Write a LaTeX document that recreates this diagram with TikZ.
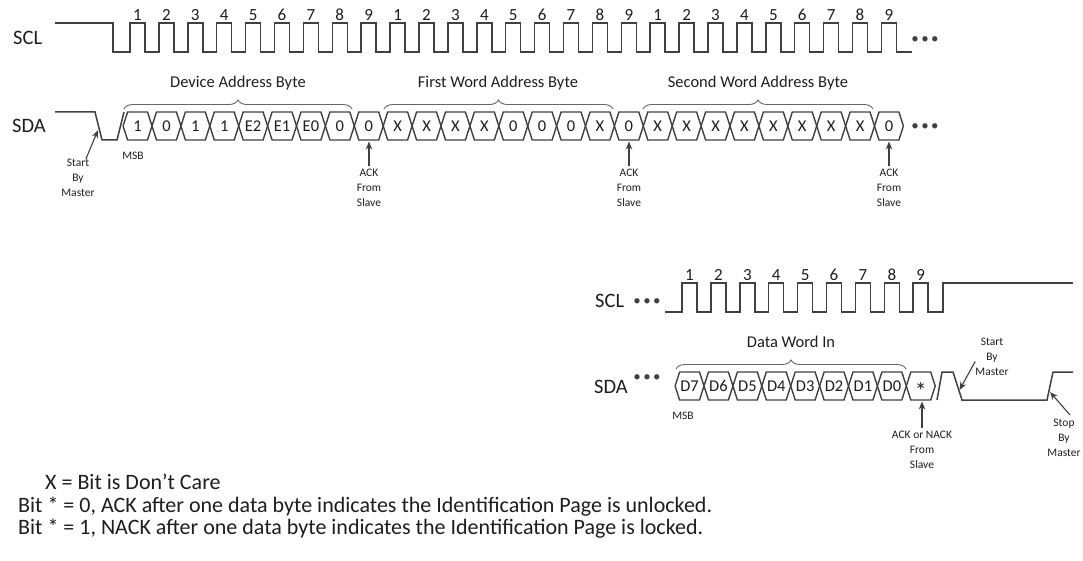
\documentclass[tikz,border=0pt]{standalone}
\usepackage{fontspec}
\setmainfont{Carlito}
\usetikzlibrary{decorations.pathreplacing,arrows.meta}
\definecolor{wavec}{HTML}{404040}
\definecolor{txtc}{HTML}{1E1E1E}
\begin{document}
\begin{tikzpicture}[x=1pt,y=-1pt,
  wave/.style={draw=wavec,line width=1.5pt,line join=miter},
  hex/.style={draw=wavec,line width=1.4pt,line join=miter},
  sig/.style={font=\fontsize{20.5}{24}\selectfont,text=txtc,inner sep=0pt,anchor=base west},
  num/.style={font=\fontsize{17}{20}\selectfont,text=txtc,inner sep=0pt,anchor=base},
  grp/.style={font=\fontsize{16.5}{20}\selectfont,text=txtc,inner sep=0pt,anchor=base},
  bit/.style={font=\fontsize{16.5}{19}\selectfont,text=txtc,inner sep=0pt,anchor=base},
  small/.style={font=\fontsize{11.5}{15}\selectfont,text=txtc,inner sep=0pt,align=center,anchor=north},
  msb/.style={font=\fontsize{11.5}{14}\selectfont,text=txtc,inner sep=0pt,anchor=base},
  note/.style={font=\fontsize{22}{25}\selectfont,text=txtc,inner sep=0pt,anchor=base west},
  dots/.style={font=\fontsize{15}{18}\selectfont,text=wavec,inner sep=0pt},
  arr/.style={draw=wavec,line width=1.1pt,-{Stealth[length=8pt,width=6.5pt]}},
  brc/.style={draw=gray!80!black,line width=0.9pt,decorate,decoration={brace,amplitude=9pt}}
]
\useasboundingbox (0,0) rectangle (1083,561);

% ---------------- top row ----------------
\node[sig] (sclT) at (13,44.5) {SCL};
\node[sig] (sdaT) at (12,133) {SDA};

% SCL top
\draw[wave] (55,23) -- (113,23) -- (113,52)
  \foreach \k in {0,...,26}{ -- ({130+28.9*\k},52) -- ({130+28.9*\k},23) -- ({145+28.9*\k},23) -- ({145+28.9*\k},52) }
  -- (912,52);
\foreach \k [evaluate=\k as \n using {int(mod(\k,9)+1)}] in {0,...,26}
  \node[num] (nT\k) at ({137.5+28.9*\k},20.5) {\n};
\node[dots] (dotsT1) at (925,40) {•\,•\,•};

% SDA top
\draw[wave] (55,112) -- (95,112) -- (102,140) -- (117,140) -- (124,112);
\foreach \lab [count=\i from 0] in {1,0,1,1,E2,E1,E0,0,0,X,X,X,X,0,0,0,X,0,X,X,X,X,X,X,X,X,0}{
  \pgfmathsetmacro\a{123.1+28.9*\i}
  \pgfmathsetmacro\b{\a+28.9}
  \draw[hex] (\a,126) -- (\a+4.5,112) -- (\b-4.5,112) -- (\b,126) -- (\b-4.5,140) -- (\a+4.5,140) -- cycle;
  \node[bit] (bT\i) at ({(\a+\b)/2},131.5) {\lab};
}
\node[dots] (dotsT2) at (925,127) {•\,•\,•};

% braces and group labels
\draw[brc] (124,109) -- (352,109);
\draw[brc] (384,109) -- (613,109);
\draw[brc] (643,109) -- (873,109);
\node[grp] (g1) at (238,87.5) {Device Address Byte};
\node[grp] (g2) at (498,87.5) {First Word Address Byte};
\node[grp] (g3) at (758,87.5) {Second Word Address Byte};

\node[msb] (msbT) at (133,160) {MSB};

% start by master (top)
\node[small] (startT) at (78,159) {Start\\By\\Master};
\coordinate (startTtip) at (98,130);
\draw[arr] (startT) -- (startTtip);

% ACK arrows top
\foreach \k/\x in {1/369,2/629,3/889}{
  \node[small] (ackT\k) at (\x,169) {ACK\\From\\Slave};
  \coordinate (ackTtip\k) at (\x,141.5);
  \draw[arr] ([yshift=3pt]ackT\k.north) -- (ackTtip\k);
}

% ---------------- bottom row ----------------
\node[sig] (sclB) at (595,307) {SCL};
\node[dots] (dotsB1) at (647,302) {•\,•\,•};
\draw[wave] (665,312)
  \foreach \k in {0,...,8}{ -- ({682+28.9*\k},312) -- ({682+28.9*\k},283) -- ({697+28.9*\k},283) -- ({697+28.9*\k},312) }
  -- (943,312) -- (943,283) -- (1073,283);
\foreach \k in {0,...,8}
  \node[num] (nB\k) at ({689.5+28.9*\k},280.5) {\the\numexpr\k+1\relax};

\node[sig] (sdaB) at (594,393.5) {SDA};
\node[dots] (dotsB2) at (647,378) {•\,•\,•};
\foreach \lab [count=\i from 0] in {D7,D6,D5,D4,D3,D2,D1,D0,{\fontsize{24}{24}\selectfont\raisebox{-0.32em}{*}}}{
  \pgfmathsetmacro\a{675.1+28.9*\i}
  \pgfmathsetmacro\b{\a+28.9}
  \draw[hex] (\a,386) -- (\a+4.5,372) -- (\b-4.5,372) -- (\b,386) -- (\b-4.5,400) -- (\a+4.5,400) -- cycle;
  \node[bit] (bB\i) at ({(\a+\b)/2},391.5) {\lab};
}
\draw[wave] (937,400) -- (942,372) -- (953,372) -- (962,400) -- (1047,400) -- (1053,372) -- (1073,372);

\draw[brc] (676,369) -- (906,369);
\node[grp] (g4) at (791,347.5) {Data Word In};
\node[msb] (msbB) at (683,419) {MSB};

\node[small] (ackB) at (922,431) {ACK or NACK\\From\\Slave};
\coordinate (ackBtip) at (922,401.5);
\draw[arr] ([yshift=3pt]ackB.north) -- (ackBtip);

\node[small] (startB) at (992,338) {Start\\By\\Master};
\coordinate (startBtip) at (959.5,390);
\draw[arr] (startB.195) -- (startBtip);

\node[small] (stopB) at (1064,419) {Stop\\By\\Master};
\coordinate (stopBtip) at (1050,392);
\draw[arr] ([xshift=6pt,yshift=4pt]stopB.north) -- (stopBtip);

% ---------------- notes ----------------
\node[note] (note1) at (45,489) {X = Bit is Don’t Care};
\node[note] (note2) at (18,512) {Bit * = 0, ACK after one data byte indicates the Identification Page is unlocked.};
\node[note] (note3) at (18,534) {Bit * = 1, NACK after one data byte indicates the Identification Page is locked.};
\end{tikzpicture}
\end{document}
